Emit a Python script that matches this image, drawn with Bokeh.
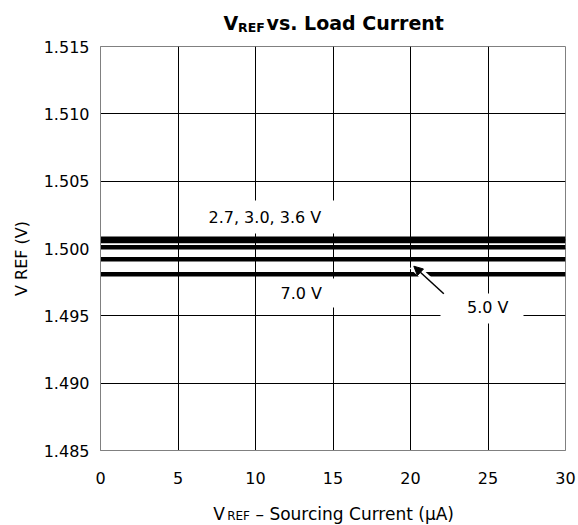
from bokeh.plotting import figure
from bokeh.layouts import row, column
from bokeh.models import Range1d, FixedTicker, Label, Arrow, NormalHead, BoxAnnotation
from bokeh.embed import file_html
from bokeh.resources import INLINE

# ---- data ----
x_current = [0, 5, 10, 15, 20, 25, 30]
v_2p7 = [1.50073, 1.50073, 1.50073, 1.50073, 1.50073, 1.50073, 1.50073]
v_3p0 = [1.50056, 1.50056, 1.50056, 1.50056, 1.50056, 1.50056, 1.50056]
v_3p6 = [1.50010, 1.50010, 1.50010, 1.50010, 1.50010, 1.50010, 1.50010]
v_5p0 = [1.49920, 1.49920, 1.49920, 1.49920, 1.49920, 1.49920, 1.49920]
v_7p0 = [1.49809, 1.49809, 1.49809, 1.49809, 1.49809, 1.49809, 1.49809]

x_ticks = [0, 5, 10, 15, 20, 25, 30]
x_tick_labels = ["0", "5", "10", "15", "20", "25", "30"]
y_ticks = [1.485, 1.49, 1.495, 1.5, 1.505, 1.51, 1.515]
y_tick_labels = ["1.485", "1.490", "1.495", "1.500", "1.505", "1.510", "1.515"]

title_parts = ["V", "REF", "vs. Load Current"]
xlabel_parts = ["V", "REF", "\u2013 Sourcing Current (\u03bcA)"]
ylabel = "V REF (V)"

FONT = "DejaVu Sans"
BASE_FIX = 6  # baseline correction (px) for alphabetic text placement

W, H = 578, 525
LEFT_W = 40          # left strip (y-axis label)
TITLE_H = 36         # title strip
MAIN_BOTTOM = 40
FL, FR, FT, FB = 100, 565, 46, 450   # plot frame on the page


class Strip:
    """A blank figure whose frame spans page x [fx0, fx1] and page y [y0, y1];
    its data coordinates are page pixels."""

    def __init__(self, x0, x1, fx0, fx1, y0, y1):
        h = y1 - y0
        f = figure(width=x1 - x0, height=h, output_backend="svg", toolbar_location=None,
                   x_range=Range1d(fx0, fx1), y_range=Range1d(y1, y0),
                   x_axis_location=None, y_axis_location=None,
                   min_border=0, min_border_left=fx0 - x0, min_border_right=x1 - fx1,
                   min_border_top=0, min_border_bottom=0)
        f.outline_line_color = None
        f.background_fill_color = "white"
        f.border_fill_color = "white"
        f.grid.visible = False
        self.fig = f

    def text(self, px, py, text, size, bold=False, **kw):
        self.fig.add_layout(Label(x=px, y=py - BASE_FIX, text=text,
                                  text_font=FONT, text_font_size=size, text_color="black",
                                  text_font_style="bold" if bold else "normal",
                                  text_baseline="alphabetic", **kw))


# ---- title strip (frame aligned with the main plot frame) ----
t_strip = Strip(LEFT_W, W, FL, FR, 0, TITLE_H)
t_strip.text(223, 28.7, title_parts[0], "19px", bold=True)
t_strip.text(237.5, 33.2, title_parts[1], "12.5px", bold=True)
t_strip.text(266, 28.7, title_parts[2], "19px", bold=True)

# ---- main plot ----
main_h = (FB - TITLE_H) + MAIN_BOTTOM
p = figure(width=W - LEFT_W, height=main_h, output_backend="svg", toolbar_location=None,
           x_range=Range1d(0, 30), y_range=Range1d(1.485, 1.515),
           min_border_left=FL - LEFT_W, min_border_right=W - FR,
           min_border_top=FT - TITLE_H, min_border_bottom=MAIN_BOTTOM)
p.background_fill_color = "white"
p.border_fill_color = "white"
p.outline_line_color = "#808080"
p.outline_line_width = 1

for ax in (p.xaxis[0], p.yaxis[0]):
    ax.axis_line_color = "#808080"
    ax.major_tick_in = 0
    ax.major_tick_out = 0
    ax.minor_tick_in = 0
    ax.minor_tick_out = 0
    ax.major_label_text_font = FONT
    ax.major_label_text_font_size = "16px"
    ax.major_label_text_color = "black"

p.xaxis.ticker = FixedTicker(ticks=x_ticks)
p.xaxis.major_label_overrides = dict(zip(x_ticks, x_tick_labels))
p.xaxis.major_label_standoff = 21
p.yaxis.ticker = FixedTicker(ticks=y_ticks)
p.yaxis.major_label_overrides = dict(zip(y_ticks, y_tick_labels))
p.yaxis.major_label_standoff = 11

p.xgrid.grid_line_color = "black"
p.ygrid.grid_line_color = "black"
p.xgrid.grid_line_width = 1
p.ygrid.grid_line_width = 1

for ys in (v_2p7, v_3p0, v_3p6, v_5p0, v_7p0):
    p.line(x_current, ys, line_color="black", line_width=4.5)


def xd(px):
    return (px - FL) * 30.0 / (FR - FL)


def yd(py):
    return 1.515 - (py - FT) * 0.03 / (FB - FT)


# white boxes behind the in-plot labels
for (l, r, t, b) in ((205, 336, 200, 233), (276, 340, 278, 307), (440, 523, 293, 323)):
    p.add_layout(BoxAnnotation(left=xd(l), right=xd(r), top=yd(t), bottom=yd(b),
                               fill_color="white", fill_alpha=1.0, line_color=None))


def dlabel(px, py, text):
    return Label(x=xd(px), y=yd(py - BASE_FIX), text=text, text_font=FONT, text_font_size="16px",
                 text_color="black", text_baseline="alphabetic")


p.add_layout(dlabel(208, 223.3, "2.7, 3.0, 3.6 V"))
p.add_layout(dlabel(280, 299.3, "7.0 V"))
p.add_layout(dlabel(466.5, 312.7, "5.0 V"))

# arrow with white halo
p.add_layout(Arrow(end=None, x_start=xd(446), y_start=yd(296), x_end=xd(412), y_end=yd(265),
                   line_color="white", line_width=8))
p.add_layout(Arrow(end=NormalHead(size=9, fill_color="black", line_color="black", line_width=1),
                   x_start=xd(443.3), y_start=yd(293.3), x_end=xd(413.3), y_end=yd(265.7),
                   line_color="black", line_width=1.5))

# ---- x-label strip (frame aligned with the main plot frame) ----
xl_top = TITLE_H + main_h
x_strip = Strip(LEFT_W, W, FL, FR, xl_top, H)
x_strip.text(212.7, 519, xlabel_parts[0], "17px")
x_strip.text(226.7, 521.7, xlabel_parts[1], "12px")
x_strip.text(255, 519, xlabel_parts[2], "17px")

# ---- y-label strip ----
y_strip = Strip(0, LEFT_W, 0, LEFT_W, 0, H)
y_strip.fig.add_layout(Label(x=27 - BASE_FIX, y=258, text=ylabel, angle=90, angle_units="deg",
                             text_align="center", text_baseline="alphabetic", text_font=FONT,
                             text_font_size="16px", text_color="black"))

layout = row(y_strip.fig, column(t_strip.fig, p, x_strip.fig, spacing=0), spacing=0)

open("out.html", "w").write(file_html(layout, INLINE))
